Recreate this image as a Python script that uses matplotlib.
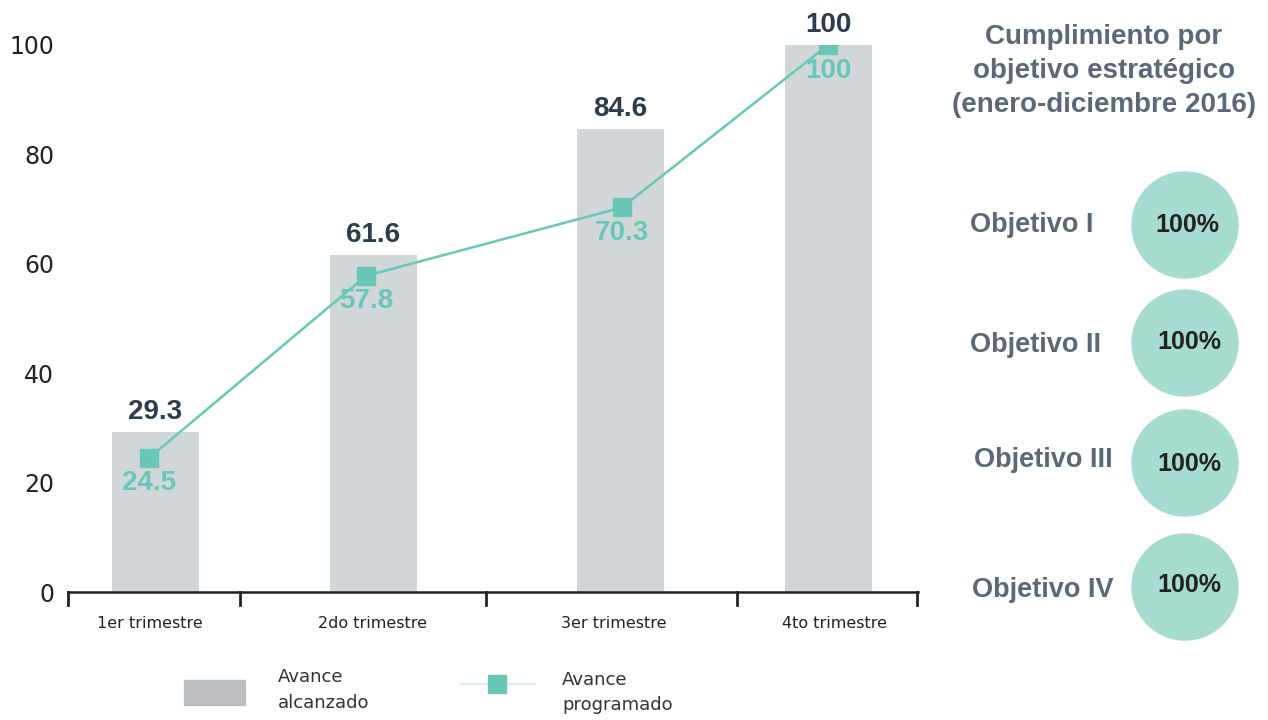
import matplotlib.pyplot as plt
from matplotlib.patches import Circle, Rectangle
from matplotlib.lines import Line2D

# data
trimestres = ['1er trimestre', '2do trimestre', '3er trimestre', '4to trimestre']
alcanzado = [29.3, 61.6, 84.6, 100]
programado = [24.5, 57.8, 70.3, 100]
objetivos = ['Objetivo I', 'Objetivo II', 'Objetivo III', 'Objetivo IV']
cumplimiento = ['100%', '100%', '100%', '100%']

# layout (x positions in axis units, axis spans 0..850)
bar_x = [87, 305, 552, 760]
line_x = [81, 298, 554, 760]
label_x = [82, 304, 546, 766]
sep_x = [0, 172, 418, 669, 849]

bar_color = '#d1d6d9'
teal = '#68c8b5'
dark = '#2e3b4c'
slate = '#5a6878'
bold_font = ['Liberation Sans', 'DejaVu Sans']

fig = plt.figure(figsize=(12.68, 7.2), dpi=100)
ax = fig.add_axes([68 / 1268, (720 - 592) / 720, 850 / 1268, (592 - 45) / 720])
ax.set_xlim(0, 850)
ax.set_ylim(0, 100)

ax.bar(bar_x, alcanzado, width=87, color=bar_color, zorder=1)
ax.plot(line_x, programado, color=teal, lw=1.8, marker='s', ms=13,
        markerfacecolor=teal, markeredgecolor=teal, zorder=3)

for x, v in zip(bar_x, alcanzado):
    ax.annotate(f'{v:g}', (x, v), xytext=(0, 5), textcoords='offset points',
                ha='center', va='bottom', fontsize=20, fontweight='bold',
                color=dark, family=bold_font, annotation_clip=False)
for x, v in zip(line_x, programado):
    ax.annotate(f'{v:g}', (x, v), xytext=(0, -9), textcoords='offset points',
                ha='center', va='top', fontsize=20, fontweight='bold',
                color=teal, family=bold_font, annotation_clip=False)

for s in ['left', 'right', 'top']:
    ax.spines[s].set_visible(False)
ax.spines['bottom'].set_linewidth(1.8)
ax.spines['bottom'].set_color('#222222')

ax.set_yticks([0, 20, 40, 60, 80, 100])
ax.tick_params(axis='y', length=0, labelsize=17, pad=10, labelcolor='#222222')
ax.set_xticks([])
for x in sep_x:
    ax.plot([x, x], [0, -2.4], color='#222222', lw=2, clip_on=False)
for x, t in zip(label_x, trimestres):
    ax.text(x, -4.3, t, ha='center', va='top', fontsize=11.5, color='#222222')

# legend
fig.patches.append(Rectangle((184, 15), 61, 25, transform=None,
                             color='#bcbdc0', figure=fig))
fig.text(278 / 1268, 1 - 677 / 720, 'Avance', fontsize=13, va='center', color='#333333')
fig.text(278 / 1268, 1 - 703 / 720, 'alcanzado', fontsize=13, va='center', color='#333333')
fig.lines.append(Line2D([460, 535], [720 - 684, 720 - 684], transform=None,
                        color='#cfeee7', lw=1.2))
fig.lines.append(Line2D([497], [720 - 684], transform=None, marker='s', ms=13,
                        color=teal, lw=0))
fig.text(562 / 1268, 1 - 680 / 720, 'Avance', fontsize=13, va='center', color='#333333')
fig.text(562 / 1268, 1 - 705 / 720, 'programado', fontsize=13, va='center', color='#333333')

# right panel
fig.text(1104 / 1268, 1 - 71 / 720,
         'Cumplimiento por\nobjetivo estratégico\n(enero-diciembre 2016)',
         ha='center', va='center', fontsize=20, fontweight='bold', color=slate,
         family=bold_font, linespacing=1.4)
circ_y = [225, 343, 463, 587]
text_y = [225, 345, 460, 590]
text_x = [1032, 1036, 1043, 1043]
pct_x = [1187, 1189, 1189, 1189]
pct_y = [225, 342, 464, 585]
for cy, ty, tx, px, py, name, pct in zip(circ_y, text_y, text_x, pct_x, pct_y,
                                         objetivos, cumplimiento):
    fig.patches.append(Circle((1185, 720 - cy), 53, transform=None,
                              color='#a6dbd0', figure=fig))
    fig.text(tx / 1268, 1 - ty / 720, name, ha='center', va='center',
             fontsize=19.5, fontweight='bold', color=slate, family=bold_font)
    fig.text(px / 1268, 1 - py / 720, pct, ha='center', va='center',
             fontsize=18, fontweight='bold', color='#222222', family=bold_font)

fig.savefig('out.png', dpi=100)
